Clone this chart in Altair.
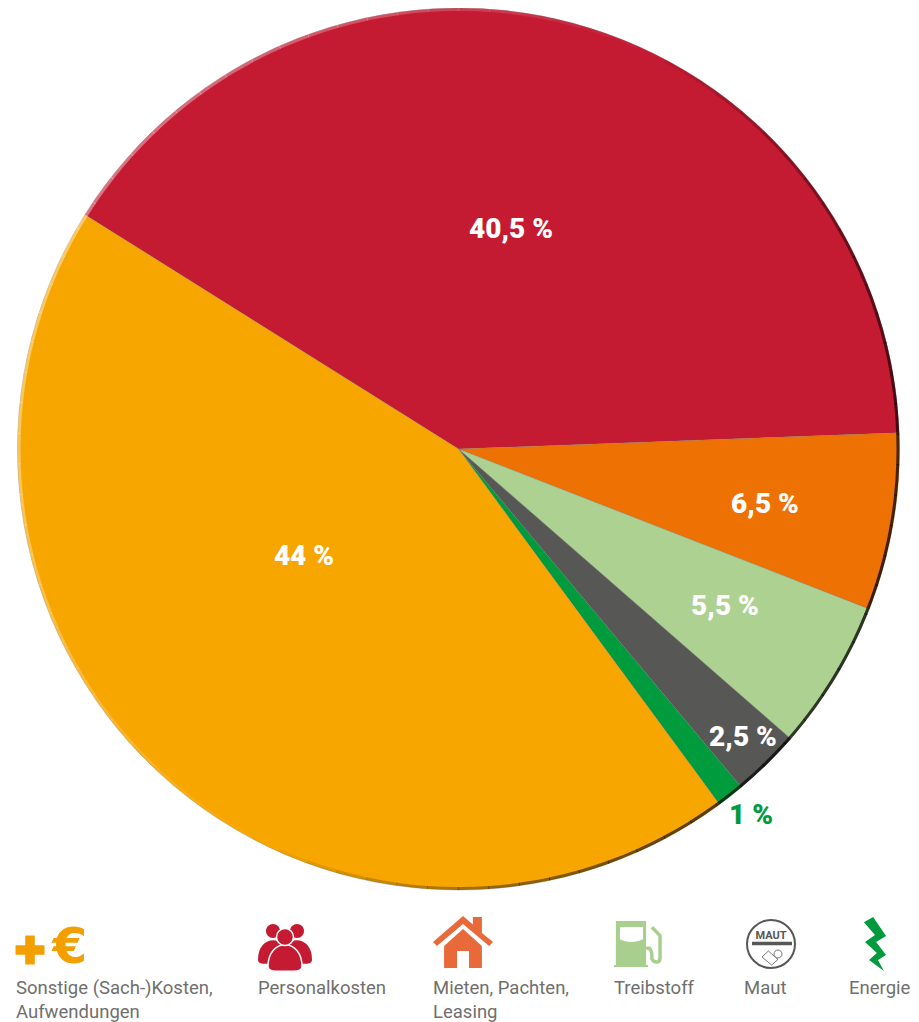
import math
import altair as alt
import pandas as pd

categories = ["Personalkosten", "Mieten", "Treibstoff", "Maut", "Energie", "Sonstige"]
shares = [40.5, 6.5, 5.5, 2.5, 1.0, 44.0]
colors = ["#C41A32", "#EE7203", "#ADD191", "#575756", "#009B3C", "#F7A600"]
share_labels = ["40,5 %", "6,5 %", "5,5 %", "2,5 %", "1 %", "44 %"]
label_colors = ["#FFFFFF", "#FFFFFF", "#FFFFFF", "#FFFFFF", "#009B3C", "#FFFFFF"]
legend_lines = [["Sonstige (Sach-)Kosten,", "Aufwendungen"], ["Personalkosten"],
                ["Mieten, Pachten,", "Leasing"], ["Treibstoff"], ["Maut"], ["Energie"]]

W, H = 903, 1014
CX, CY, R = 450.5, 441, 441
START = math.radians(302.1)
FONT = "Roboto"


def page(x, y):
    return alt.value(x - 8), alt.value(y - 8)


def text(label, x, y, size, color, weight="normal", align="center", baseline="middle", font=FONT):
    px, py = page(x, y)
    return alt.Chart(pd.DataFrame({"t": [label]})).mark_text(
        font=font, fontSize=size, fontWeight=weight, color=color, align=align, baseline=baseline
    ).encode(text="t:N", x=px, y=py)


def icon(shape, x, y, span, fill=None, stroke=None, sw=0):
    px, py = page(x, y)
    kw = {"filled": fill is not None, "opacity": 1, "size": span * span, "shape": shape}
    if fill:
        kw["fill"] = fill
    if stroke:
        kw["stroke"] = stroke
        kw["strokeWidth"] = sw
    return alt.Chart(pd.DataFrame({"i": [0]})).mark_point(**kw).encode(x=px, y=py)


def rim(a0, a1, color, opacity, width=3):
    return alt.Chart(pd.DataFrame({"i": [0]})).mark_arc(
        theta=math.radians(a0), theta2=math.radians(a1),
        innerRadius=R - width, outerRadius=R, color=color, opacity=opacity
    ).encode(x=alt.value(CX), y=alt.value(CY))


df = pd.DataFrame({"cat": categories, "v": shares, "o": list(range(len(categories)))})
pie = alt.Chart(df).mark_arc(outerRadius=R, stroke="#6b6b6b", strokeWidth=0.5, strokeOpacity=0.6).encode(
    theta=alt.Theta("v:Q", stack=True, scale=alt.Scale(domain=[0, 100], range=[START, START + 2 * math.pi])),
    order=alt.Order("o:Q"),
    color=alt.Color("cat:N", scale=alt.Scale(domain=categories, range=colors), legend=None),
    x=alt.value(CX), y=alt.value(CY),
)

layers = [pie]

# bevel along the rim of the pie, lit from the upper left
STEP = 4
for a in range(0, 360, STEP):
    c = math.cos(math.radians(a + STEP / 2 - 295))
    if c > 0.05:
        layers.append(rim(a, a + STEP + 0.1, "#FFFFFF", 0.4 * c))
    elif c < -0.05:
        layers.append(rim(a, a + STEP + 0.1, "#000000", 0.75 * (-c)))

# share labels
for lab, col, (x, y) in zip(share_labels, label_colors,
                            [(511, 230), (765, 505), (725, 607), (743, 738), (751, 816), (304, 557)]):
    layers.append(text(lab, x, y, 28, col, weight=900))

# legend texts
GREY = "#6F6F6E"
for lines, x in zip(legend_lines, [16, 258, 433, 614, 744, 849]):
    for i, ln in enumerate(lines):
        layers.append(text(ln, x, 988 + 24 * i, 18.5, GREY, align="left"))

# +EUR icon
PLUS = "M-0.33,-1 L0.33,-1 L0.33,-0.33 L1,-0.33 L1,0.33 L0.33,0.33 L0.33,1 L-0.33,1 L-0.33,0.33 L-1,0.33 L-1,-0.33 L-0.33,-0.33 Z"
layers.append(icon(PLUS, 30, 950, 29, fill="#F39F00"))
layers.append(text("€", 70, 948, 50, "#F39F00", weight="bold", font="DejaVu Sans"))

# people icon
BODY = "M-1,0.5 C-1,-0.35 -0.5,-0.78 0,-0.78 C0.5,-0.78 1,-0.35 1,0.5 C1,0.78 0.7,0.78 0.5,0.78 L-0.5,0.78 C-0.7,0.78 -1,0.78 -1,0.5 Z"
CIRC = "M-1,0 A1,1 0 1,1 1,0 A1,1 0 1,1 -1,0 Z"
RED = "#C41A32"
layers += [
    icon(CIRC, 273, 931, 14, fill=RED), icon(CIRC, 297, 931, 14, fill=RED),
    icon(BODY, 273, 952, 30, fill=RED), icon(BODY, 297, 952, 30, fill=RED),
    icon(BODY, 285, 958, 34, fill=RED, stroke="#FFFFFF", sw=1.5),
    icon(CIRC, 285, 937, 17, fill=RED, stroke="#FFFFFF", sw=1.5),
]

# house icon
HOUSE = ("M-1,0 L0,-0.87 L0.33,-0.58 L0.33,-0.83 L0.63,-0.83 L0.63,-0.3 L1,0 L0.87,0.13 L0,-0.6 L-0.87,0.13 Z "
         "M-0.63,0.13 L0,-0.43 L0.63,0.13 L0.63,0.87 L0.2,0.87 L0.2,0.3 L-0.2,0.3 L-0.2,0.87 L-0.63,0.87 Z")
layers.append(icon(HOUSE, 463, 942, 60, fill="#E8693A"))

# pump icon
PUMP = "M-0.88,-0.96 L0.38,-0.96 L0.38,0.87 L0.46,0.87 L0.46,0.96 L-0.96,0.96 L-0.96,0.87 L-0.88,0.87 Z"
WINDOW = "M-0.71,-0.71 L0.25,-0.71 L0.25,-0.2 C-0.1,-0.05 -0.4,-0.05 -0.71,-0.2 Z"
HOSE = "M0.38,0.2 C0.55,0.1 0.62,0.3 0.62,0.5 L0.62,0.62 C0.7,0.8 0.95,0.8 0.96,0.6 L0.96,-0.35 L0.62,-0.7"
layers += [
    icon(PUMP, 637, 944, 48, fill="#A9CF8F"),
    icon(WINDOW, 637, 944, 48, fill="#FFFFFF"),
    icon(HOSE, 637, 944, 48, stroke="#A9CF8F", sw=3.5),
]

# toll icon
CARD = "M-1,0 L-0.2,-0.75 L1,0.3 L0.2,1 Z"
layers += [
    icon(CIRC, 771, 944, 48, fill="#FFFFFF", stroke="#575756", sw=2),
    text("MAUT", 771, 936, 11, "#575756", weight="bold"),
    alt.Chart(pd.DataFrame({"i": [0]})).mark_rule(color="#575756", strokeWidth=3.5).encode(
        x=alt.value(752 - 8), x2=alt.value(792 - 8), y=alt.value(943.5 - 8)),
    icon(CARD, 770, 957, 16, fill="#FFFFFF", stroke="#575756", sw=0.8),
    icon(CIRC, 778, 954, 8, fill="#FFFFFF", stroke="#575756", sw=0.8),
]

# bolt icon
BOLT = ("M-0.41,-0.81 L-0.07,-1 L0.41,-0.3 L0.04,-0.07 L0.41,0.41 L0.11,0.59 L0.33,1 "
        "L-0.22,0.59 L0.07,0.33 L-0.37,-0.07 L0,-0.33 Z")
layers.append(icon(BOLT, 875, 944, 54, fill="#009B3C"))

chart = alt.layer(*layers).properties(
    width=W, height=H, padding=0, autosize=alt.AutoSizeParams(type="none"), background="#FFFFFF"
).configure_view(stroke=None)

chart.save("out.html", embed_options={"renderer": "svg", "actions": False})
